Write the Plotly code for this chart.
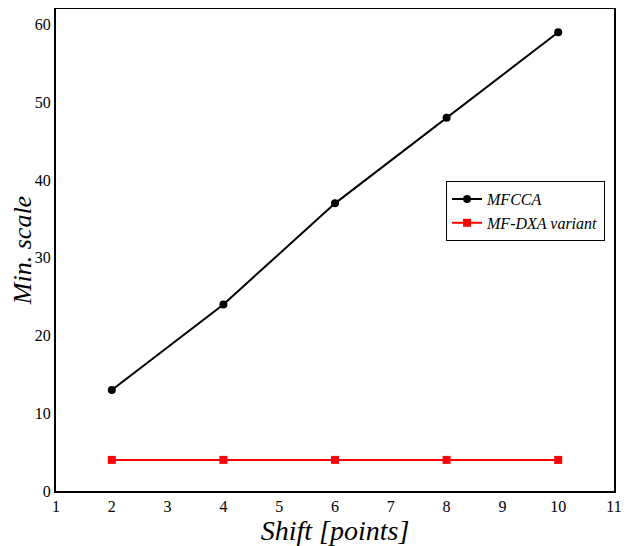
import plotly.graph_objects as go

shift = [2, 4, 6, 8, 10]
mfcca = [13, 24, 37, 48, 59]
mfdxa = [4, 4, 4, 4, 4]
series_names = ["MFCCA", "MF-DXA variant"]

fig = go.Figure()
fig.add_trace(go.Scatter(x=shift, y=mfcca, mode="lines+markers", name=series_names[0],
                         line=dict(color="black", width=2),
                         marker=dict(symbol="circle", size=8, color="black")))
fig.add_trace(go.Scatter(x=shift, y=mfdxa, mode="lines+markers", name=series_names[1],
                         line=dict(color="red", width=2),
                         marker=dict(symbol="square", size=8, color="red")))

fig.update_layout(
    width=627, height=538,
    margin=dict(l=48, r=21, t=1, b=55),
    paper_bgcolor="white", plot_bgcolor="white",
    font=dict(family="Liberation Serif", size=16, color="black"),
    showlegend=True,
    legend=dict(x=0.699, y=0.643, xanchor="left", yanchor="top",
                bordercolor="black", borderwidth=1, bgcolor="white",
                font=dict(family="Liberation Serif", size=16, style="italic"),
                tracegroupgap=0, itemwidth=30),
    xaxis=dict(range=[1, 11], dtick=1, showgrid=False, zeroline=False,
               showline=True, linecolor="black", linewidth=2, mirror=True,
               ticks="", tickfont=dict(size=16), automargin=False,
               title=dict(text="Shift [points]", standoff=0,
                          font=dict(family="Liberation Serif", size=28, style="italic"))),
    yaxis=dict(range=[0, 62], tickvals=[0, 10, 20, 30, 40, 50, 60], showgrid=False, zeroline=False,
               showline=True, linecolor="black", linewidth=2, mirror=True,
               ticks="", tickfont=dict(size=16), automargin=False,
               title=dict(text="Min. scale", standoff=0,
                          font=dict(family="Liberation Serif", size=26, style="italic"))),
)

fig.write_html("out.html")
